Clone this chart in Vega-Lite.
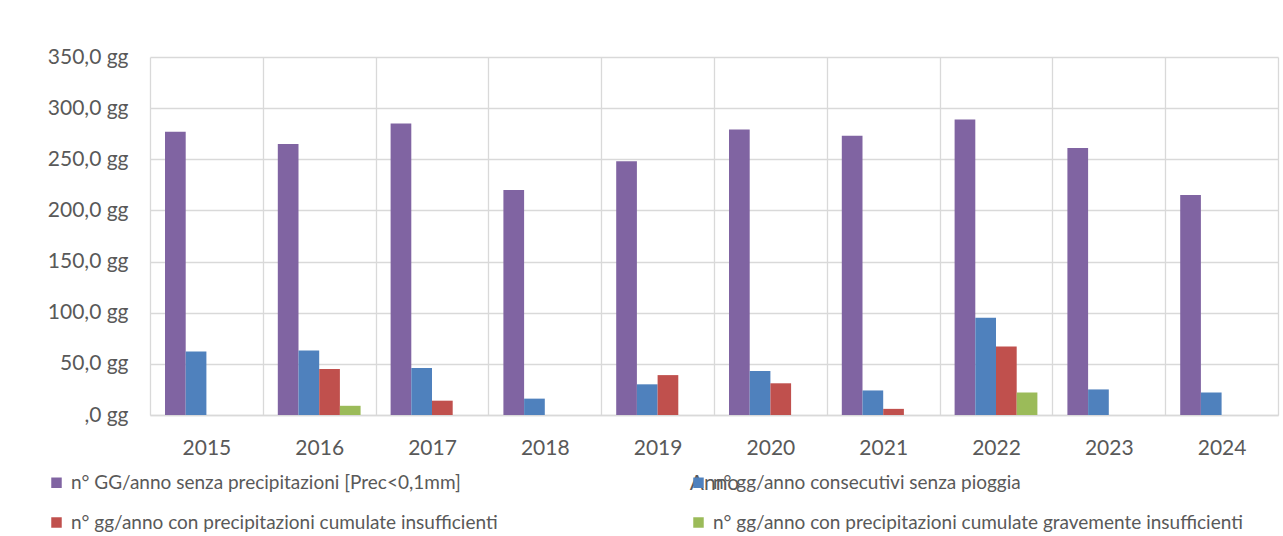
{
  "$schema": "https://vega.github.io/schema/vega-lite/v6.json",
  "width": 1128,
  "height": 358,
  "autosize": {"type": "none"},
  "padding": {"left": 150, "top": 57, "right": 5, "bottom": 121},
  "background": "white",
  "data": {
    "values": [
      {"anno": "2015", "serie": "n° GG/anno senza precipitazioni [Prec<0,1mm]", "giorni": 277},
      {"anno": "2015", "serie": "n° gg/anno consecutivi senza pioggia", "giorni": 62},
      {"anno": "2015", "serie": "n° gg/anno con precipitazioni cumulate insufficienti", "giorni": 0},
      {"anno": "2015", "serie": "n° gg/anno con precipitazioni cumulate gravemente insufficienti", "giorni": 0},
      {"anno": "2016", "serie": "n° GG/anno senza precipitazioni [Prec<0,1mm]", "giorni": 265},
      {"anno": "2016", "serie": "n° gg/anno consecutivi senza pioggia", "giorni": 63},
      {"anno": "2016", "serie": "n° gg/anno con precipitazioni cumulate insufficienti", "giorni": 45},
      {"anno": "2016", "serie": "n° gg/anno con precipitazioni cumulate gravemente insufficienti", "giorni": 9},
      {"anno": "2017", "serie": "n° GG/anno senza precipitazioni [Prec<0,1mm]", "giorni": 285},
      {"anno": "2017", "serie": "n° gg/anno consecutivi senza pioggia", "giorni": 46},
      {"anno": "2017", "serie": "n° gg/anno con precipitazioni cumulate insufficienti", "giorni": 14},
      {"anno": "2017", "serie": "n° gg/anno con precipitazioni cumulate gravemente insufficienti", "giorni": 0},
      {"anno": "2018", "serie": "n° GG/anno senza precipitazioni [Prec<0,1mm]", "giorni": 220},
      {"anno": "2018", "serie": "n° gg/anno consecutivi senza pioggia", "giorni": 16},
      {"anno": "2018", "serie": "n° gg/anno con precipitazioni cumulate insufficienti", "giorni": 0},
      {"anno": "2018", "serie": "n° gg/anno con precipitazioni cumulate gravemente insufficienti", "giorni": 0},
      {"anno": "2019", "serie": "n° GG/anno senza precipitazioni [Prec<0,1mm]", "giorni": 248},
      {"anno": "2019", "serie": "n° gg/anno consecutivi senza pioggia", "giorni": 30},
      {"anno": "2019", "serie": "n° gg/anno con precipitazioni cumulate insufficienti", "giorni": 39},
      {"anno": "2019", "serie": "n° gg/anno con precipitazioni cumulate gravemente insufficienti", "giorni": 0},
      {"anno": "2020", "serie": "n° GG/anno senza precipitazioni [Prec<0,1mm]", "giorni": 279},
      {"anno": "2020", "serie": "n° gg/anno consecutivi senza pioggia", "giorni": 43},
      {"anno": "2020", "serie": "n° gg/anno con precipitazioni cumulate insufficienti", "giorni": 31},
      {"anno": "2020", "serie": "n° gg/anno con precipitazioni cumulate gravemente insufficienti", "giorni": 0},
      {"anno": "2021", "serie": "n° GG/anno senza precipitazioni [Prec<0,1mm]", "giorni": 273},
      {"anno": "2021", "serie": "n° gg/anno consecutivi senza pioggia", "giorni": 24},
      {"anno": "2021", "serie": "n° gg/anno con precipitazioni cumulate insufficienti", "giorni": 6},
      {"anno": "2021", "serie": "n° gg/anno con precipitazioni cumulate gravemente insufficienti", "giorni": 0},
      {"anno": "2022", "serie": "n° GG/anno senza precipitazioni [Prec<0,1mm]", "giorni": 289},
      {"anno": "2022", "serie": "n° gg/anno consecutivi senza pioggia", "giorni": 95},
      {"anno": "2022", "serie": "n° gg/anno con precipitazioni cumulate insufficienti", "giorni": 67},
      {"anno": "2022", "serie": "n° gg/anno con precipitazioni cumulate gravemente insufficienti", "giorni": 22},
      {"anno": "2023", "serie": "n° GG/anno senza precipitazioni [Prec<0,1mm]", "giorni": 261},
      {"anno": "2023", "serie": "n° gg/anno consecutivi senza pioggia", "giorni": 25},
      {"anno": "2023", "serie": "n° gg/anno con precipitazioni cumulate insufficienti", "giorni": 0},
      {"anno": "2023", "serie": "n° gg/anno con precipitazioni cumulate gravemente insufficienti", "giorni": 0},
      {"anno": "2024", "serie": "n° GG/anno senza precipitazioni [Prec<0,1mm]", "giorni": 215},
      {"anno": "2024", "serie": "n° gg/anno consecutivi senza pioggia", "giorni": 22},
      {"anno": "2024", "serie": "n° gg/anno con precipitazioni cumulate insufficienti", "giorni": 0},
      {"anno": "2024", "serie": "n° gg/anno con precipitazioni cumulate gravemente insufficienti", "giorni": 0}
    ]
  },
  "mark": {"type": "bar"},
  "encoding": {
    "x": {
      "field": "anno",
      "type": "nominal",
      "title": "Anno",
      "scale": {"paddingInner": 0, "paddingOuter": 0},
      "axis": {
        "labelAngle": 0,
        "tickBand": "extent",
        "grid": true,
        "gridColor": "#d9d9d9",
        "gridWidth": 1.3,
        "ticks": false,
        "domainColor": "#d9d9d9",
        "domainWidth": 1.5,
        "labelFont": "Lato",
        "labelFontSize": 21,
        "labelColor": "#595959",
        "labelPadding": 22,
        "titleFont": "Lato",
        "titleFontSize": 21,
        "titleFontWeight": "normal",
        "titleColor": "#595959",
        "titlePadding": 14
      }
    },
    "xOffset": {
      "field": "serie",
      "sort": [
        "n° GG/anno senza precipitazioni [Prec<0,1mm]",
        "n° gg/anno consecutivi senza pioggia",
        "n° gg/anno con precipitazioni cumulate insufficienti",
        "n° gg/anno con precipitazioni cumulate gravemente insufficienti"
      ],
      "scale": {"paddingInner": 0, "paddingOuter": 0.725}
    },
    "y": {
      "field": "giorni",
      "type": "quantitative",
      "scale": {"domain": [0, 350]},
      "axis": {
        "title": null,
        "values": [0, 50, 100, 150, 200, 250, 300, 350],
        "grid": true,
        "gridColor": "#d9d9d9",
        "gridWidth": 1.3,
        "domain": false,
        "ticks": false,
        "labelFont": "Lato",
        "labelFontSize": 21,
        "labelColor": "#595959",
        "labelPadding": 22,
        "labelExpr": "datum.value == 0 ? ',0 gg' : replace(format(datum.value, '.1f'), '.', ',') + ' gg'"
      }
    },
    "color": {
      "field": "serie",
      "type": "nominal",
      "scale": {
        "domain": [
          "n° GG/anno senza precipitazioni [Prec<0,1mm]",
          "n° gg/anno consecutivi senza pioggia",
          "n° gg/anno con precipitazioni cumulate insufficienti",
          "n° gg/anno con precipitazioni cumulate gravemente insufficienti"
        ],
        "range": ["#8064A2", "#4F81BD", "#C0504D", "#9BBB59"]
      },
      "legend": {
        "orient": "none",
        "legendX": -103,
        "legendY": 416,
        "direction": "horizontal",
        "columns": 2,
        "title": null,
        "symbolType": "square",
        "symbolSize": 110,
        "symbolStrokeWidth": 0,
        "labelFont": "Lato",
        "labelFontSize": 19,
        "labelColor": "#595959",
        "labelOffset": 5,
        "labelLimit": 700,
        "rowPadding": 20,
        "columnPadding": 191
      }
    }
  },
  "config": {"view": {"stroke": null}}
}
